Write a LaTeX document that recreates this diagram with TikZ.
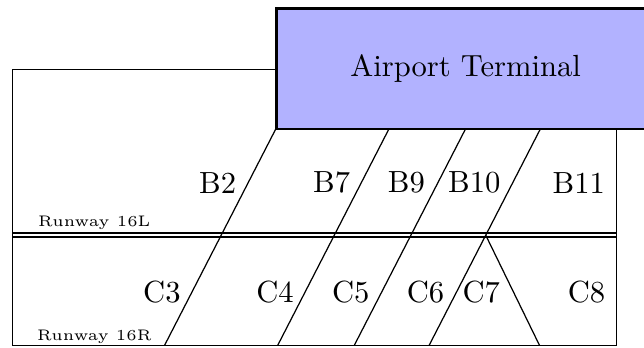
\documentclass[tikz,border=0pt]{standalone}
\usepackage{tikz}
\usetikzlibrary{positioning}

\tikzset{
    terminal/.style={draw, thick, fill=blue!30, minimum width=4.35cm, minimum height=1.38cm},
    runway/.style={thick, double},
    rwlabel/.style={anchor=base west, inner sep=0pt, font=\tiny}
}

\begin{document}
\begin{tikzpicture}
    \useasboundingbox (-0.14,-0.02) rectangle (7.26,3.97);
    % runways first, the apron outline goes over them
    \draw [runway] (0,1.27) -- (6.94,1.27);
    \draw (0,0) rectangle (6.94,3.17);
    \node (term) [terminal] at (5.21,3.18) {Airport Terminal};

    % taxiways from the terminal down across both runways
    \foreach \xa/\xb in {3.03/1.75, 4.33/3.05, 5.21/3.93, 6.07/4.79}
        \draw (\xa,2.49) -- (\xb,0);
    \draw (5.44,1.27) -- (6.06,0);

    % gate labels
    \foreach \x/\gate in {2.36/B2, 3.67/B7, 4.53/B9, 5.31/B10, 6.51/B11}
        \node (\gate) at (\x,1.87) {\gate};
    \foreach \x/\gate in {1.72/C3, 3.02/C4, 3.89/C5, 4.75/C6, 5.39/C7, 6.60/C8}
        \node (\gate) at (\x,0.615) {\gate};

    \node (rw16L) [rwlabel] at (0.29,1.37) {Runway 16L};
    \node (rw16R) [rwlabel] at (0.28,0.06) {Runway 16R};
\end{tikzpicture}
\end{document}
